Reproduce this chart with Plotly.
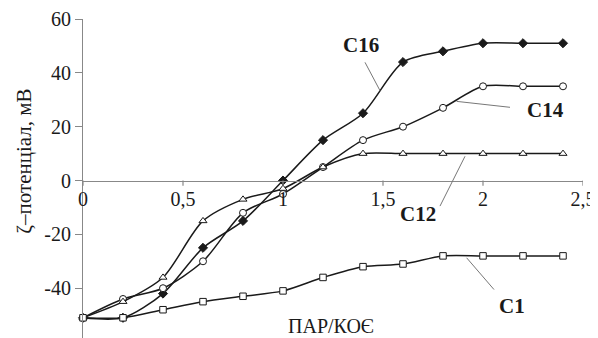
import plotly.graph_objects as go

x_vals = [0, 0.2, 0.4, 0.6, 0.8, 1.0, 1.2, 1.4, 1.6, 1.8, 2.0, 2.2, 2.4]
c16 = [-51, -51, -42, -25, -15, 0, 15, 25, 44, 48, 51, 51, 51]
c14 = [-51, -44, -40, -30, -12, -5, 5, 15, 20, 27, 35, 35, 35]
c12 = [-51, -45, -36, -15, -7, -3, 5, 10, 10, 10, 10, 10, 10]
c1 = [-51, -51, -48, -45, -43, -41, -36, -32, -31, -28, -28, -28, -28]

x_ticks = [0, 0.5, 1, 1.5, 2, 2.5]
x_tick_labels = ["0", "0,5", "1", "1,5", "2", "2,5"]
y_ticks = [-40, -20, 0, 20, 40, 60]
y_tick_labels = ["-40", "-20", "0", "20", "40", "60"]

series_labels = ["C16", "C14", "C12", "C1"]
label_pos = [(1.39, 50.5), (2.31, 26.3), (1.675, -12.5), (2.145, -46.5)]
leader_lines = [((1.41, 43.9), (1.485, 33.4)),
                ((2.135, 27.2), (1.868, 29.4)),
                ((1.91, 9.0), (1.785, -9.5)),
                ((1.918, -28.7), (2.055, -40.5))]

FONT = "Times New Roman, Liberation Serif, serif"
TXT = "#1a1a1a"
LINE = "#1a1a1a"
AX = "#888"
YMIN, YMAX = -58.5, 60

fig = go.Figure()

styles = [
    (c16, dict(symbol="diamond", size=7, color=LINE, line=dict(color=LINE, width=1))),
    (c14, dict(symbol="circle", size=7, color="white", line=dict(color=LINE, width=1))),
    (c12, dict(symbol="triangle-up", size=7, color="white", line=dict(color=LINE, width=1))),
    (c1, dict(symbol="square", size=6.5, color="white", line=dict(color=LINE, width=1))),
]
for (vals, mk), name in zip(styles, series_labels):
    fig.add_trace(go.Scatter(
        x=x_vals, y=vals, mode="lines+markers", name=name,
        line=dict(color=LINE, width=1.5, shape="spline", smoothing=0.8),
        marker=mk, showlegend=False, cliponaxis=False,
    ))

for name, (lx, ly) in zip(series_labels, label_pos):
    fig.add_annotation(x=lx, y=ly, xref="x", yref="y", text="<b>%s</b>" % name,
                       showarrow=False, font=dict(family=FONT, size=21, color=TXT))

for (a, b) in leader_lines:
    fig.add_shape(type="line", x0=a[0], y0=a[1], x1=b[0], y1=b[1],
                  xref="x", yref="y", line=dict(color="#777", width=1))

# short downward tick marks on the x axis (labels then sit close to the axis)
for t in x_ticks:
    fig.add_shape(type="line", x0=t, x1=t, y0=0, y1=-1.9, xref="x", yref="y",
                  line=dict(color=AX, width=1.2))

# x axis title placed inside the plot, as in the reference
fig.add_annotation(x=1.24, y=-54.2, xref="x", yref="y", text="ПАР/КОЄ",
                   showarrow=False, font=dict(family=FONT, size=20, color=TXT))
# y axis title
fig.add_annotation(x=-0.118, y=7, xref="paper", yref="y", text="ζ–потенціал, мВ",
                   textangle=-90, showarrow=False, xanchor="center", yanchor="middle",
                   font=dict(family=FONT, size=21, color=TXT))
# partly visible -60 tick label at the bottom edge
fig.add_annotation(x=0, y=-60, xref="paper", yref="y", text="-60", xanchor="right",
                   xshift=-15, showarrow=False,
                   font=dict(family=FONT, size=20, color=TXT))

# page body has an 8px default margin, so the figure is 8px smaller on each side
fig.update_layout(
    width=590, height=330,
    margin=dict(l=75, r=15, t=11, b=0),
    paper_bgcolor="white", plot_bgcolor="white",
    font=dict(family=FONT, size=20, color=TXT),
    xaxis=dict(range=[0, 2.5], tickvals=x_ticks, ticktext=x_tick_labels,
               showgrid=False, zeroline=False, showline=True, linecolor=AX,
               linewidth=1.2, ticks="",
               anchor="free", position=(0 - YMIN) / (YMAX - YMIN),
               tickfont=dict(family=FONT, size=20, color=TXT)),
    yaxis=dict(range=[YMIN, YMAX], tickvals=y_ticks, ticktext=y_tick_labels,
               showgrid=False, zeroline=False, showline=True, linecolor=AX,
               linewidth=1.2, ticks="outside", ticklen=7, tickcolor=AX,
               tickfont=dict(family=FONT, size=20, color=TXT)),
)

fig.write_html("out.html")
